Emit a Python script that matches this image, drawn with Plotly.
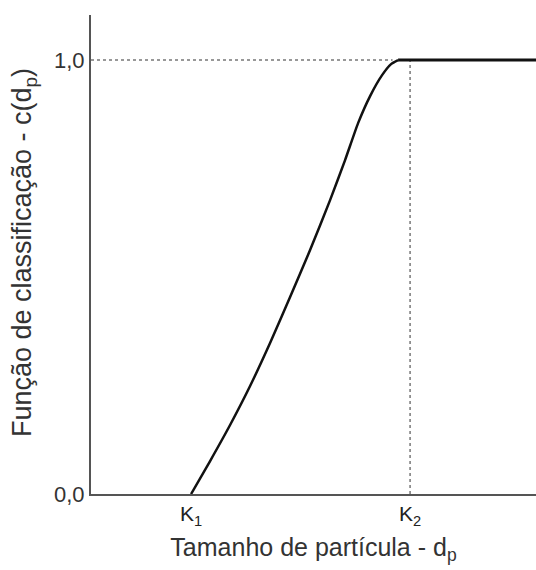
import plotly.graph_objects as go

# Classification function c(dp): zero below K1, rising S-curve up to 1 near K2
curve_x = [1.0, 1.0868, 1.1781, 1.2694, 1.3607, 1.4521, 1.5434, 1.6347, 1.7032,
           1.7626, 1.8174, 1.8721, 1.9132, 1.9452]
curve_y = [0.0, 0.0760, 0.1590, 0.2488, 0.3479, 0.4539, 0.5622, 0.6774, 0.7696,
           0.8548, 0.9171, 0.9654, 0.9908, 1.0]
# plateau c = 1 for larger particles
plateau_x = [1.9452, 2.6]
plateau_y = [1.0, 1.0]

x_tick_vals = [1, 2]
x_tick_text = ["K<sub>1</sub>", "K<sub>2</sub>"]
y_tick_vals = [0, 1]
y_tick_text = ["0,0", "1,0"]

x_title = "Tamanho de partícula - d<sub>p</sub>"
y_title = "Função de classificação - c(d<sub>p</sub>)"

x_range = [0.543, 2.575]
y_range = [0.0, 1.104]

ink = "#111111"
axis_col = "#555555"
text_col = "#333333"
font_family = "Liberation Sans, Arial, sans-serif"

fig = go.Figure()

# reference guides at c = 1 and dp = K2
fig.add_trace(go.Scatter(x=[x_range[0], 1.92], y=[1, 1], mode="lines",
                         line=dict(color="#777777", width=1.5, dash="dot"),
                         hoverinfo="skip", showlegend=False))
fig.add_trace(go.Scatter(x=[2, 2], y=[0, 1], mode="lines",
                         line=dict(color="#777777", width=1.5, dash="dot"),
                         hoverinfo="skip", showlegend=False))

fig.add_trace(go.Scatter(x=curve_x, y=curve_y, mode="lines",
                         line=dict(color=ink, width=2.5, shape="spline", smoothing=0.5),
                         showlegend=False))
fig.add_trace(go.Scatter(x=plateau_x, y=plateau_y, mode="lines",
                         line=dict(color=ink, width=3),
                         showlegend=False))

fig.update_layout(
    width=536, height=570,
    margin=dict(l=91, r=0, t=15, b=76),
    paper_bgcolor="white", plot_bgcolor="white",
    font=dict(family=font_family, color=text_col),
)
fig.update_xaxes(
    range=x_range, showgrid=False, zeroline=False,
    showline=True, linecolor=axis_col, linewidth=2,
    tickvals=x_tick_vals, ticktext=x_tick_text, ticks="",
    tickfont=dict(size=21, color="#222222"),
    title=dict(text=x_title, font=dict(size=25, color=text_col), standoff=11),
)
fig.update_yaxes(
    range=y_range, showgrid=False, zeroline=False,
    showline=True, linecolor=axis_col, linewidth=2,
    tickvals=y_tick_vals, ticktext=y_tick_text, ticks="",
    tickfont=dict(size=22, color=text_col),
)

# vertical axis title, placed close to the left edge
fig.add_annotation(
    text=y_title, textangle=-90, showarrow=False,
    xref="paper", yref="paper", x=-0.1506, y=0.505,
    xanchor="center", yanchor="middle",
    font=dict(size=27, color=text_col, family=font_family),
)

fig.write_html("out.html")
